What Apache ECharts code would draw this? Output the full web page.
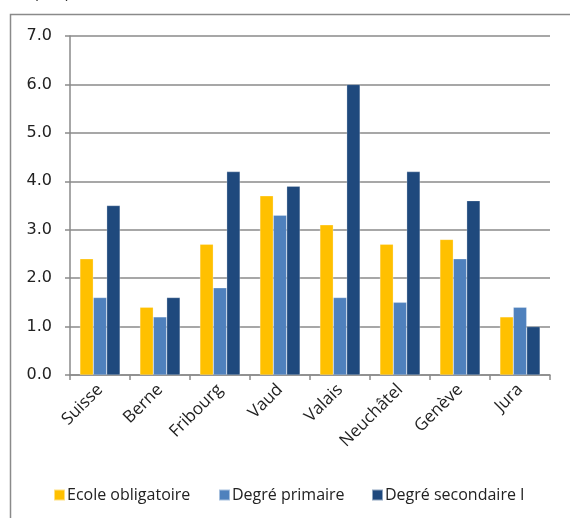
<!DOCTYPE html>
<html>
<head>
<meta charset="utf-8">
<script src="https://cdn.jsdelivr.net/npm/echarts@6/dist/echarts.min.js"></script>
<style>
  html, body { margin: 0; padding: 0; background: #fff; }
  #chart { width: 570px; height: 518px; }
</style>
</head>
<body>
<div id="chart"></div>
<script>
// Cantons and rates per school level
const categories = ['Suisse', 'Berne', 'Fribourg', 'Vaud', 'Valais', 'Neuchâtel', 'Genève', 'Jura'];
const ecoleObligatoire = [2.4, 1.4, 2.7, 3.7, 3.1, 2.7, 2.8, 1.2];
const degrePrimaire = [1.6, 1.2, 1.8, 3.3, 1.6, 1.5, 2.4, 1.4];
const degreSecondaire = [3.5, 1.6, 4.2, 3.9, 6.0, 4.2, 3.6, 1.0];
const seriesNames = ['Ecole obligatoire', 'Degré primaire', 'Degré secondaire I'];
const seriesColors = ['#FFC000', '#4F81BD', '#1F497D'];

const font = '"Open Sans", "Noto Sans", sans-serif';
const chart = echarts.init(document.getElementById('chart'), null, { renderer: 'canvas' });

const values = [ecoleObligatoire, degrePrimaire, degreSecondaire];
// left edge of each legend entry along the bottom row
const legendLefts = [53, 218, 371];

chart.setOption({
  animation: false,
  backgroundColor: '#fff',
  textStyle: { fontFamily: font },
  graphic: [
    {
      type: 'rect',
      shape: { x: 10.5, y: 14.5, width: 700, height: 700 },
      style: { fill: 'none', stroke: '#8a8a8a', lineWidth: 1.5 }
    },
    {
      type: 'text',
      left: 8, top: -16,
      style: { text: 'Graphique 5', font: '16px ' + font, fill: '#333' }
    }
  ],
  grid: { left: 70, right: 20, top: 36, bottom: 143, containLabel: false },
  legend: seriesNames.map((name, i) => ({
    top: 487,
    left: legendLefts[i],
    padding: 0,
    itemWidth: 11,
    itemHeight: 11,
    icon: 'rect',
    textStyle: { fontSize: 16, color: '#222', fontFamily: font, padding: [0, 0, 0, -3] },
    data: [name]
  })),
  xAxis: {
    type: 'category',
    data: categories,
    boundaryGap: true,
    axisLine: { lineStyle: { color: '#8a8a8a', width: 1.5 } },
    axisTick: { show: true, length: 5, lineStyle: { color: '#8a8a8a', width: 1.5 } },
    axisLabel: { rotate: 45, fontSize: 17, color: '#222', margin: 12, interval: 0 }
  },
  yAxis: {
    type: 'value',
    min: 0, max: 7, interval: 1,
    axisLine: { show: true, lineStyle: { color: '#8a8a8a', width: 1.5 } },
    axisTick: { show: true, length: 5, lineStyle: { color: '#8a8a8a', width: 1.5 } },
    splitLine: { lineStyle: { color: '#8a8a8a', width: 1.5 } },
    axisLabel: {
      fontSize: 16, color: '#222', margin: 18,
      fontFamily: '"DejaVu Sans", sans-serif',
      formatter: v => v.toFixed(1)
    }
  },
  series: values.map((d, i) => ({
    name: seriesNames[i],
    type: 'bar',
    data: d,
    barGap: '0%',
    barCategoryGap: '33%',
    itemStyle: { color: seriesColors[i], borderColor: 'rgba(255,255,255,0.5)', borderWidth: 0.5 }
  }))
});
</script>
</body>
</html>
